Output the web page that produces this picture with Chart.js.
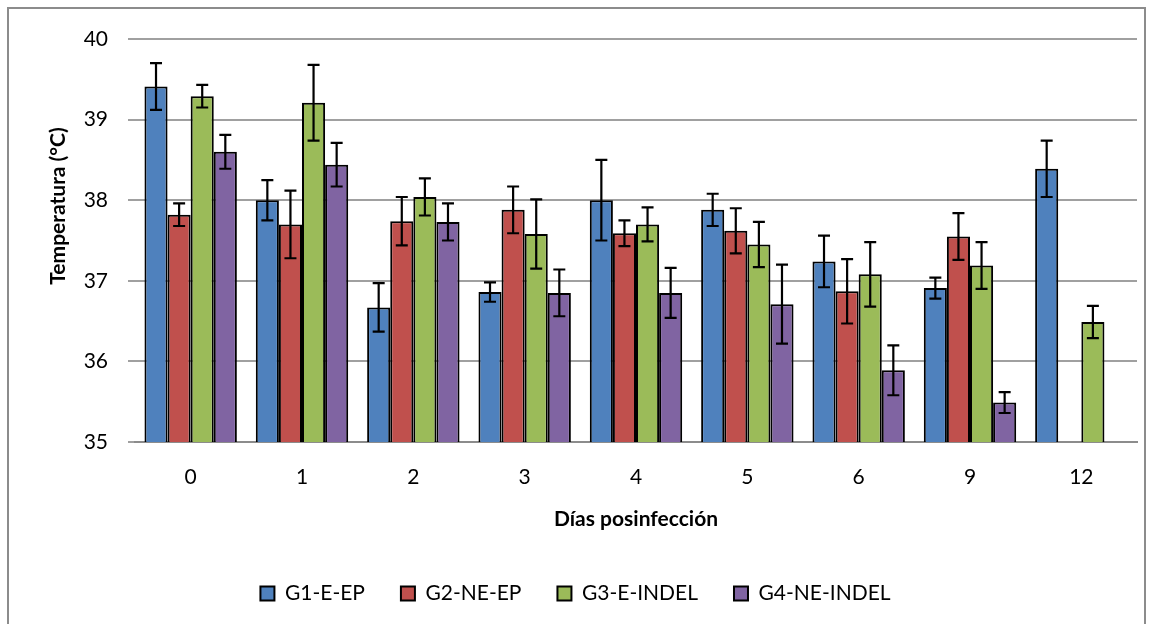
<!DOCTYPE html>
<html>
<head>
<meta charset="utf-8">
<script src="https://cdn.jsdelivr.net/npm/chart.js@4"></script>
<style>
  html, body { margin: 0; padding: 0; background: #fff; }
  #wrap { position: absolute; left: 0; top: 0; width: 1154px; height: 624px; }
  #frame { position: absolute; left: 7px; top: 7px; width: 1139px; height: 630px; border: 2px solid #8c8c8c; box-sizing: border-box; pointer-events: none; }
</style>
</head>
<body>
<div id="wrap"><canvas id="c" width="1154" height="624"></canvas></div>
<div id="frame"></div>
<script>
const categories = ['0', '1', '2', '3', '4', '5', '6', '9', '12'];
const seriesNames = ['G1-E-EP', 'G2-NE-EP', 'G3-E-INDEL', 'G4-NE-INDEL'];
const g1 = [39.41, 38.00, 36.67, 36.86, 38.00, 37.88, 37.24, 36.91, 38.39];
const g2 = [37.82, 37.70, 37.74, 37.88, 37.59, 37.62, 36.87, 37.55, null];
const g3 = [39.29, 39.21, 38.04, 37.58, 37.70, 37.45, 37.08, 37.19, 36.49];
const g4 = [38.60, 38.44, 37.73, 36.85, 36.85, 36.71, 35.89, 35.49, null];
const g1Err = [0.29, 0.25, 0.30, 0.12, 0.50, 0.20, 0.32, 0.13, 0.35];
const g2Err = [0.14, 0.42, 0.30, 0.29, 0.16, 0.28, 0.40, 0.29, null];
const g3Err = [0.14, 0.47, 0.23, 0.43, 0.21, 0.28, 0.40, 0.29, 0.20];
const g4Err = [0.21, 0.27, 0.23, 0.29, 0.31, 0.49, 0.31, 0.13, null];
const yTicks = [35, 36, 37, 38, 39, 40];
const yTitle = 'Temperatura (°C)';
const xTitle = 'Días posinfección';

const colors = ['#4F81BD', '#C0504D', '#9BBB59', '#8064A2'];
const values = [g1, g2, g3, g4];
const errors = [g1Err, g2Err, g3Err, g4Err];
const FONT = 'Lato, "Open Sans", sans-serif';

const errorBars = {
  id: 'errorBars',
  afterDatasetsDraw(chart) {
    const ctx = chart.ctx;
    const y = chart.scales.y;
    ctx.save();
    ctx.strokeStyle = '#000';
    ctx.lineWidth = 2.2;
    chart.data.datasets.forEach((ds, i) => {
      const meta = chart.getDatasetMeta(i);
      meta.data.forEach((bar, j) => {
        const v = ds.data[j];
        const e = ds.errors[j];
        if (v == null || e == null) return;
        const x = bar.x;
        const yt = y.getPixelForValue(v + e);
        const yb = y.getPixelForValue(v - e);
        const cap = 6;
        ctx.beginPath();
        ctx.moveTo(x, yt); ctx.lineTo(x, yb);
        ctx.moveTo(x - cap, yt); ctx.lineTo(x + cap, yt);
        ctx.moveTo(x - cap, yb); ctx.lineTo(x + cap, yb);
        ctx.stroke();
      });
    });
    ctx.restore();
  }
};

const yTitlePlugin = {
  id: 'yTitlePlugin',
  afterDraw(chart) {
    const ctx = chart.ctx;
    const a = chart.chartArea;
    ctx.save();
    ctx.translate(a.left - 77, a.top + 167);
    ctx.rotate(-Math.PI / 2);
    ctx.fillStyle = '#000';
    ctx.font = 'bold 21px ' + FONT;
    ctx.textAlign = 'center';
    ctx.textBaseline = 'middle';
    ctx.fillText(yTitle, 0, 0);
    ctx.restore();
  }
};

new Chart(document.getElementById('c'), {
  type: 'bar',
  data: {
    labels: categories,
    datasets: seriesNames.map((n, i) => ({
      label: n,
      data: values[i],
      errors: errors[i],
      backgroundColor: colors[i],
      borderColor: '#000',
      borderWidth: 2,
      barPercentage: 1.0,
      categoryPercentage: 0.83
    }))
  },
  options: {
    responsive: false,
    animation: false,
    devicePixelRatio: 1,
    layout: { padding: { left: 14, right: 17, top: 39, bottom: 10 } },
    plugins: {
      legend: {
        position: 'bottom',
        labels: {
          boxWidth: 14, boxHeight: 14, padding: 36,
          color: '#000',
          font: { family: FONT, size: 21 }
        }
      },
      tooltip: { enabled: false }
    },
    scales: {
      x: {
        grid: { display: false },
        border: { display: true, color: '#8c8c8c', width: 2 },
        ticks: { color: '#000', padding: 15, font: { family: FONT, size: 21 } },
        title: { display: true, text: xTitle, color: '#000', font: { family: FONT, size: 21, weight: 'bold' }, padding: { top: 0, bottom: 15 } },
        afterFit(s) { s.height = 105; }
      },
      y: {
        min: 35, max: 40,
        afterBuildTicks(s) { s.ticks = yTicks.map(v => ({ value: v })); },
        grid: { color: '#a0a0a0', lineWidth: 2, tickLength: 7, drawTicks: true },
        border: { display: false },
        ticks: { color: '#000', padding: 20, font: { family: FONT, size: 21 } },
        afterFit(s) { s.width = 121; }
      }
    }
  },
  plugins: [errorBars, yTitlePlugin]
});
</script>
</body>
</html>
